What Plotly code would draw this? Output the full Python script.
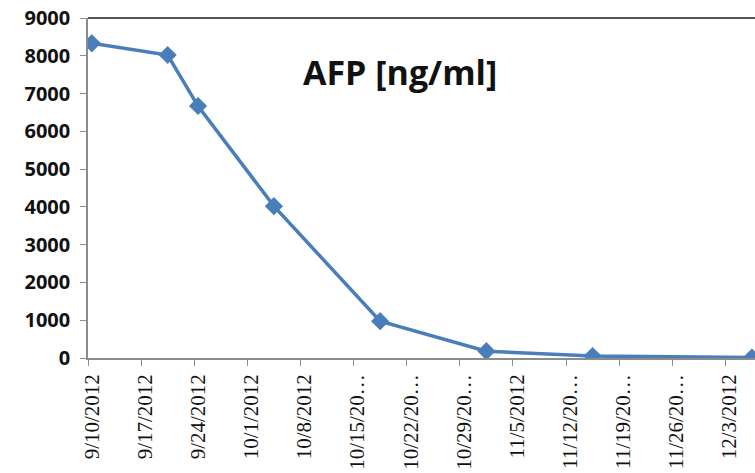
import pandas as pd
import plotly.graph_objects as go

dates = ["2012-09-10", "2012-09-20", "2012-09-24", "2012-10-04",
         "2012-10-18", "2012-11-01", "2012-11-15", "2012-12-06"]
afp = [8330, 8020, 6670, 4020, 975, 180, 50, 10]

tick_labels = ["9/10/2012", "9/17/2012", "9/24/2012", "10/1/2012", "10/8/2012",
               "10/15/20\u2026", "10/22/20\u2026", "10/29/20\u2026", "11/5/2012",
               "11/12/20\u2026", "11/19/20\u2026", "11/26/20\u2026", "12/3/2012"]

y_ticks = list(range(0, 9001, 1000))

half_day = pd.Timedelta(hours=12)
x = pd.to_datetime(dates) + half_day
tick_vals = pd.date_range("2012-09-10", periods=len(tick_labels), freq="7D")

fig = go.Figure()
fig.add_trace(go.Scatter(
    x=x, y=afp, mode="lines+markers",
    line=dict(color="#4a7ebb", width=3.5),
    marker=dict(symbol="diamond", size=14, color="#4a7ebb"),
    showlegend=False,
))

fig.update_layout(
    width=755, height=473,
    margin=dict(l=88, r=0, t=18, b=115, autoexpand=False),
    paper_bgcolor="white", plot_bgcolor="white",
    annotations=[dict(text="<b>AFP [ng/ml]</b>", x=0.468, y=0.84,
                      xref="paper", yref="paper", showarrow=False,
                      xanchor="center", yanchor="middle",
                      font=dict(family="Open Sans", size=34, color="#111"))],
    shapes=[dict(type="line", xref="paper", yref="paper", x0=0, x1=1, y0=1, y1=1,
                 line=dict(color="#555555", width=2))],
)
fig.update_xaxes(
    type="date", automargin=False,
    range=[tick_vals[0], tick_vals[0] + pd.Timedelta(days=87.9)],
    tickmode="array", tickvals=tick_vals, ticktext=tick_labels,
    tickangle=-90, showgrid=False, zeroline=False,
    showline=True, linecolor="#8c8c8c", linewidth=1.5,
    ticks="outside", ticklen=6, tickcolor="#8c8c8c",
    ticklabelshift=4,
    tickfont=dict(family="Liberation Serif", size=21, color="#111"),
)
fig.update_yaxes(
    range=[0, 9000], tickmode="array", tickvals=y_ticks, automargin=False,
    ticktext=[str(v) for v in y_ticks],
    showgrid=False, zeroline=False,
    showline=True, linecolor="#8c8c8c", linewidth=1.5,
    ticks="outside", ticklen=6, tickcolor="#8c8c8c",
    ticklabelstandoff=6,
    tickfont=dict(family="Open Sans", size=20, color="#111", weight="bold"),
)

fig.write_html("out.html")
